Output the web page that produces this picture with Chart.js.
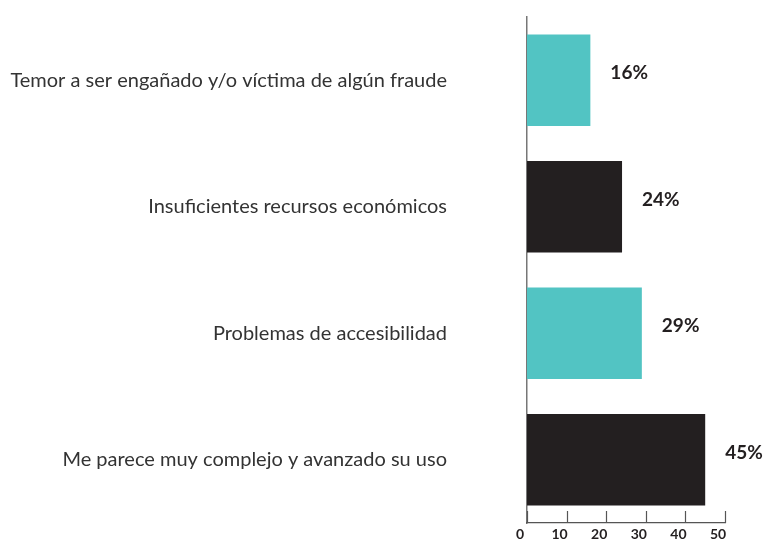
<!DOCTYPE html>
<html>
<head>
<meta charset="utf-8">
<script src="https://cdn.jsdelivr.net/npm/chart.js@4"></script>
<style>
  html, body { margin: 0; padding: 0; background: #fff; }
  #wrap { width: 764px; height: 539px; }
</style>
</head>
<body>
<div id="wrap"><canvas id="chart"></canvas></div>
<script>
// Razones para no usar servicios digitales
const categories = [
  "Temor a ser engañado y/o víctima de algún fraude",
  "Insuficientes recursos económicos",
  "Problemas de accesibilidad",
  "Me parece muy complejo y avanzado su uso"
];
const values = [16, 24, 29, 45];
const valueLabels = ["16%", "24%", "29%", "45%"];
const barColors = ["#52c4c3", "#231f20", "#52c4c3", "#231f20"];
const xTicks = [0, 10, 20, 30, 40, 50];

const ink = "#231f20";

// tick marks sit above the bottom axis line, pointing into the plot
const innerTicks = {
  id: "innerTicks",
  afterDraw(chart) {
    const ctx = chart.ctx;
    const x = chart.scales.x;
    const bottom = chart.chartArea.bottom;
    ctx.save();
    ctx.strokeStyle = "#555";
    ctx.lineWidth = 1.2;
    xTicks.forEach(function (v) {
      const px = Math.round(x.getPixelForValue(v)) + 0.5;
      ctx.beginPath();
      ctx.moveTo(px, bottom);
      ctx.lineTo(px, bottom - 12);
      ctx.stroke();
    });
    ctx.restore();
  }
};

// percentage text to the right of each bar
const barLabels = {
  id: "barLabels",
  afterDatasetsDraw(chart) {
    const ctx = chart.ctx;
    const meta = chart.getDatasetMeta(0);
    ctx.save();
    ctx.font = "bold 19px Lato";
    ctx.fillStyle = ink;
    ctx.textAlign = "left";
    ctx.textBaseline = "middle";
    meta.data.forEach(function (bar, i) {
      ctx.fillText(valueLabels[i], bar.x + 20, bar.y - 7);
    });
    ctx.restore();
  }
};

new Chart(document.getElementById("chart"), {
  type: "bar",
  data: {
    labels: categories,
    datasets: [{
      data: values,
      backgroundColor: barColors,
      borderWidth: 0,
      categoryPercentage: 0.725,
      barPercentage: 1
    }]
  },
  plugins: [innerTicks, barLabels],
  options: {
    indexAxis: "y",
    responsive: true,
    maintainAspectRatio: false,
    animation: false,
    layout: { padding: { top: 17, right: 39, bottom: 0, left: 0 } },
    plugins: {
      legend: { display: false },
      tooltip: { enabled: false }
    },
    scales: {
      y: {
        grid: { display: false, drawTicks: false },
        border: { display: true, color: "#777", width: 1.5 },
        afterFit: function (scale) {
          scale.width = 527;
          // tick padding is meant horizontally only
          scale.paddingTop = 0;
          scale.paddingBottom = 0;
        },
        ticks: {
          padding: 80,
          color: "#333",
          font: { family: "Lato", size: 20 }
        }
      },
      x: {
        min: 0,
        max: 50,
        grid: { display: false, drawTicks: false },
        border: { display: true, color: "#555", width: 1.2 },
        afterBuildTicks: function (scale) {
          scale.ticks = xTicks.map(function (v) { return { value: v }; });
        },
        afterFit: function (scale) { scale.height = 16; },
        ticks: {
          padding: 3,
          labelOffset: -7,
          maxRotation: 0,
          minRotation: 0,
          color: ink,
          font: { family: "Lato", size: 14, weight: "bold" }
        }
      }
    }
  }
});
</script>
</body>
</html>
